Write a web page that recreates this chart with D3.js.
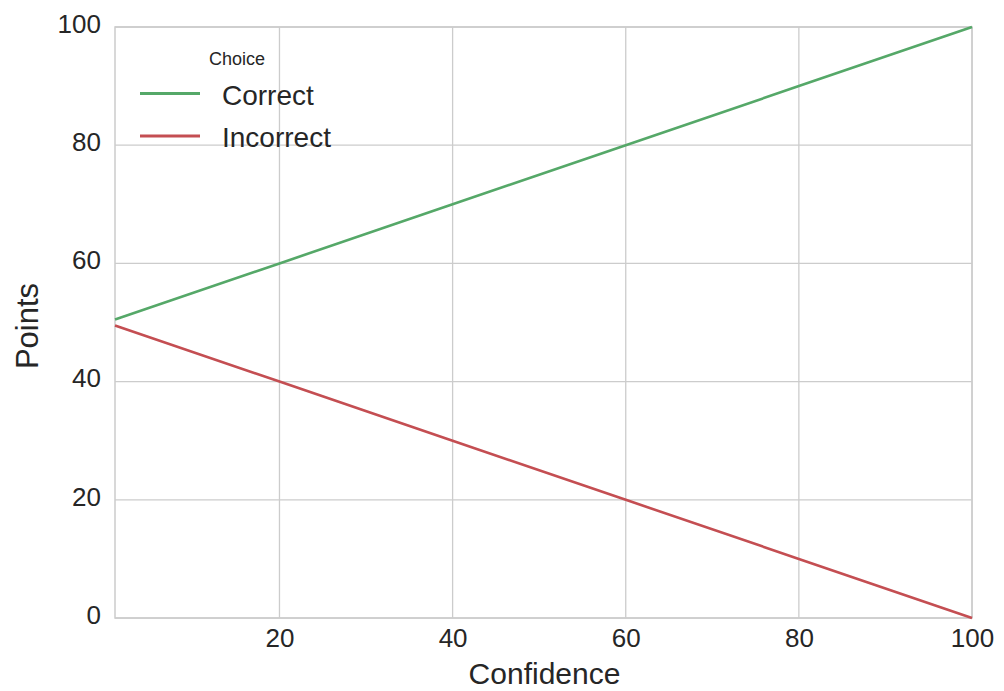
<!DOCTYPE html>
<html><head><meta charset="utf-8">
<script src="https://cdn.jsdelivr.net/npm/d3@7"></script>
<style>body{margin:0;background:#fff;} text{font-family:"Liberation Sans",Arial,sans-serif;fill:#262626;}</style>
</head><body><svg id="c" width="1004" height="691"></svg>
<script>
const confidence = [1, 20, 40, 60, 80, 100];
const correctPoints = [50.5, 60, 70, 80, 90, 100];
const incorrectPoints = [49.5, 40, 30, 20, 10, 0];
const seriesNames = ["Correct", "Incorrect"];
const seriesColors = ["#55a868", "#c44e52"];
const xTicks = [20, 40, 60, 80, 100];
const yTicks = [0, 20, 40, 60, 80, 100];

const svg = d3.select("#c");
const m = {l:115, r:972, t:27, b:618};
const x = d3.scaleLinear().domain([1,100]).range([m.l, m.r]);
const y = d3.scaleLinear().domain([0,100]).range([m.b, m.t]);

// grid
const g = svg.append("g");
g.selectAll(".gx").data(xTicks).enter().append("line")
  .attr("x1",d=>x(d)).attr("x2",d=>x(d)).attr("y1",m.t).attr("y2",m.b)
  .attr("stroke","#cccccc").attr("stroke-width",1.3);
g.selectAll(".gy").data(yTicks).enter().append("line")
  .attr("x1",m.l).attr("x2",m.r).attr("y1",d=>y(d)).attr("y2",d=>y(d))
  .attr("stroke","#cccccc").attr("stroke-width",1.3);
svg.append("rect").attr("x",m.l).attr("y",m.t).attr("width",m.r-m.l).attr("height",m.b-m.t)
  .attr("fill","none").attr("stroke","#cccccc").attr("stroke-width",1.5);

// axes labels
const xAxis = d3.axisBottom(x).tickValues(xTicks).tickSize(0).tickPadding(11);
const xa = svg.append("g").attr("transform",`translate(0,${m.b})`).call(xAxis);
xa.select(".domain").remove();
xa.selectAll("text").attr("font-size",26).style("font-family","Liberation Sans, Arial, sans-serif").attr("fill","#262626");
const yAxis = d3.axisLeft(y).tickValues(yTicks).tickSize(0).tickPadding(14);
const ya = svg.append("g").attr("transform",`translate(${m.l},0)`).call(yAxis);
ya.select(".domain").remove();
ya.selectAll("text").attr("font-size",26).attr("y",-3).style("font-family","Liberation Sans, Arial, sans-serif").attr("fill","#262626");

svg.append("text").attr("x",(m.l+m.r)/2 + 1).attr("y",684).attr("text-anchor","middle")
  .attr("font-size",30).text("Confidence");
svg.append("text").attr("transform",`translate(38,326) rotate(-90)`).attr("text-anchor","middle")
  .attr("font-size",31).text("Points");

// lines
const series = [correctPoints, incorrectPoints];
const line = d3.line().x((d,i)=>x(confidence[i])).y(d=>y(d));
series.forEach((s,k)=>{
  svg.append("path").datum(s).attr("d",line).attr("fill","none")
    .attr("stroke",seriesColors[k]).attr("stroke-width",2.6);
});

// legend
const lg = svg.append("g");
lg.append("text").attr("x",237).attr("y",65).attr("text-anchor","middle").attr("font-size",18).text("Choice");
seriesNames.forEach((n,k)=>{
  const yy = 93.5 + k*42.5;
  lg.append("line").attr("x1",140).attr("x2",200).attr("y1",yy).attr("y2",yy)
    .attr("stroke",seriesColors[k]).attr("stroke-width",2.8);
  lg.append("text").attr("x",222).attr("y",yy+11).attr("font-size",28).text(n);
});
</script></body></html>
